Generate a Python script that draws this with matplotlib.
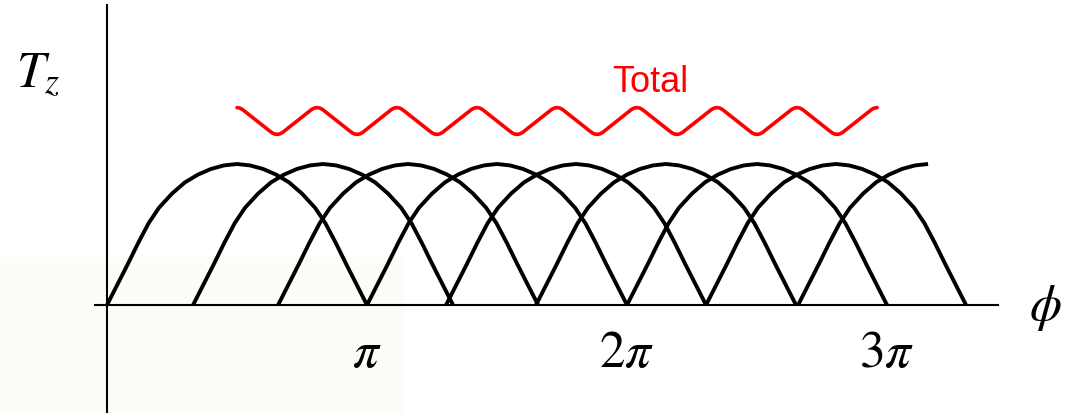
import matplotlib.pyplot as plt
from matplotlib.patches import Rectangle

plt.rcParams['mathtext.fontset'] = 'stix'

# phi in units of pi
arch_starts = [0.0, 0.331, 0.658, 1.0, 1.304, 1.65, 2.0, 2.304, 2.658]
arch_extent = [1.0, 1.0, 1.0, 1.0, 1.0, 1.0, 1.0, 1.0, 0.5]

# shape of one hump (fraction of width, height)
profile_f = [0.0, 0.04, 0.08, 0.12, 0.16, 0.20, 0.25, 0.30, 0.35, 0.40, 0.45, 0.5,
             0.55, 0.60, 0.65, 0.70, 0.75, 0.80, 0.84, 0.88, 0.92, 0.96, 1.0]
profile_h = [0.0, 0.145, 0.29, 0.44, 0.58, 0.69, 0.79, 0.87, 0.925, 0.965, 0.99, 1.0,
             0.99, 0.965, 0.925, 0.87, 0.79, 0.69, 0.58, 0.44, 0.29, 0.145, 0.0]

# red total ripple
total_peaks = [0.5, 0.808, 1.115, 1.423, 1.731, 2.038, 2.346, 2.654, 2.962]
total_troughs = [0.654, 0.962, 1.269, 1.577, 1.885, 2.192, 2.5, 2.808]
peak_val = 1.40
trough_val = 1.21

tick_pos = [1, 2, 3]
tick_labels = [r'$\pi$', r'$2\pi$', r'$3\pi$']

W, H = 1066, 414
x0, px_pi = 107, 260.0
y0, px_unit = 306, 141.0

fig = plt.figure(figsize=(W / 100, H / 100), dpi=100)
ax = fig.add_axes([0, 0, 1, 1])
ax.set_xlim(-x0 / px_pi, (W - x0) / px_pi)
ax.set_ylim((y0 - H) / px_unit, y0 / px_unit)
ax.axis('off')

# faint slide background patch
ax.add_patch(Rectangle((-x0 / px_pi, (y0 - H) / px_unit), 405 / px_pi,
                       (H - 258) / px_unit, color='#fdfcf9', lw=0, zorder=0))

# axes
ax.plot([0, 0], [(y0 - H) / px_unit, (y0 - 6) / px_unit], color='black', lw=1.5)
ax.plot([(95 - x0) / px_pi, (998 - x0) / px_pi], [0, 0], color='black', lw=1.5)

# humps
for s, e in zip(arch_starts, arch_extent):
    xs = [s + f for f in profile_f if f <= e + 1e-9]
    ys = [h for f, h in zip(profile_f, profile_h) if f <= e + 1e-9]
    ax.plot(xs, ys, color='black', lw=2.8, solid_capstyle='butt', solid_joinstyle='round')

# total ripple, corners slightly rounded
ext = sorted([(p, peak_val, 1) for p in total_peaks] + [(t, trough_val, -1) for t in total_troughs])
rx, ry = [], []
for i, (p, v, sg) in enumerate(ext):
    if i > 0:
        rx += [p - 0.02, p - 0.01]
        ry += [v - sg * 0.012, v - sg * 0.003]
    rx.append(p)
    ry.append(v)
    if i < len(ext) - 1:
        rx += [p + 0.01, p + 0.02]
        ry += [v - sg * 0.003, v - sg * 0.012]
ax.plot(rx, ry, color='#ff0000', lw=2.6, solid_joinstyle='round', solid_capstyle='round')

fig.text(612 / W, 1 - 92 / H, 'Total', color='#ff0000', fontsize=26,
         family='Liberation Sans', va='baseline', ha='left')

for p, lab in zip(tick_pos, tick_labels):
    ax.text(p, (y0 - 367) / px_unit, lab, fontsize=37, ha='center', va='baseline')

fig.text(16 / W, 1 - 87 / H, r'$T_z$', fontsize=37, ha='left', va='baseline')
fig.text(1045 / W, 1 - 308 / H, r'$\phi$', fontsize=37, ha='center', va='center')

fig.savefig('out.png', dpi=100)
